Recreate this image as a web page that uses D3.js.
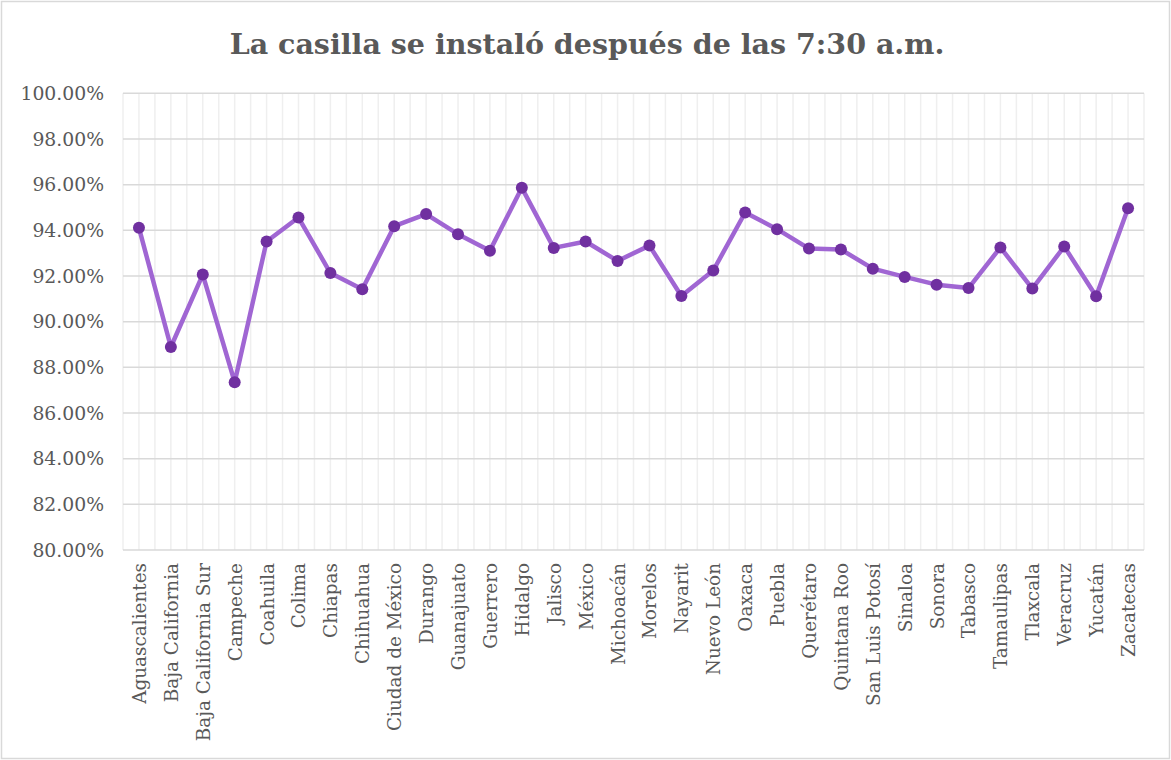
<!DOCTYPE html>
<html><head><meta charset="utf-8">
<script src="https://cdn.jsdelivr.net/npm/d3@7/dist/d3.min.js"></script>
<style>html,body{margin:0;padding:0;background:#fff;}</style>
</head><body>
<script>
const title = "La casilla se instaló después de las 7:30 a.m.";
const states = ["Aguascalientes","Baja California","Baja California Sur","Campeche","Coahuila","Colima","Chiapas","Chihuahua","Ciudad de México","Durango","Guanajuato","Guerrero","Hidalgo","Jalisco","México","Michoacán","Morelos","Nayarit","Nuevo León","Oaxaca","Puebla","Querétaro","Quintana Roo","San Luis Potosí","Sinaloa","Sonora","Tabasco","Tamaulipas","Tlaxcala","Veracruz","Yucatán","Zacatecas"];
const values = [94.11,88.89,92.06,87.35,93.51,94.56,92.13,91.42,94.18,94.71,93.83,93.11,95.86,93.23,93.51,92.66,93.33,91.12,92.24,94.78,94.05,93.20,93.16,92.32,91.96,91.62,91.47,93.25,91.45,93.29,91.11,94.97];
const yTicks = [80,82,84,86,88,90,92,94,96,98,100];

const W = 1171, H = 760;
const font = "'DejaVu Serif', Georgia, serif";
const m = {left:123, right:1144, top:93.3, bottom:550};

const svg = d3.select("body").append("svg").attr("width", W).attr("height", H);
svg.append("rect").attr("x",1.5).attr("y",1.5).attr("width",W-3).attr("height",H-3)
  .attr("fill","#fff").attr("stroke","#d9d9d9").attr("stroke-width",1.5);

svg.append("text").attr("x", 587).attr("y", 54).attr("text-anchor","middle")
  .attr("font-family", font).attr("font-weight","bold").attr("font-size", 28.5)
  .attr("fill","#595959").text(title);

const x = d3.scalePoint().domain(states).range([m.left, m.right]).padding(0.5);
const y = d3.scaleLinear().domain([80,100]).range([m.bottom, m.top]);
const step = x.step();

// vertical gridlines (category boundaries and centres)
const g = svg.append("g");
const vpos = [];
for (let i = 0; i <= states.length; i++) vpos.push(m.left + i*step);
states.forEach(s => vpos.push(x(s)));
g.selectAll("line.v").data(vpos).enter().append("line")
  .attr("x1", d=>d).attr("x2", d=>d).attr("y1", m.top).attr("y2", m.bottom)
  .attr("stroke","#efefef").attr("stroke-width",1.5);
// horizontal gridlines
g.selectAll("line.h").data(yTicks).enter().append("line")
  .attr("x1", m.left).attr("x2", m.right).attr("y1", d=>y(d)).attr("y2", d=>y(d))
  .attr("stroke","#d9d9d9").attr("stroke-width",1.5);

// y axis labels
const yAxis = d3.axisLeft(y).tickValues(yTicks).tickSize(0).tickPadding(19)
  .tickFormat(d => d.toFixed(2) + "%");
const ya = svg.append("g").attr("transform",`translate(${m.left},0)`).call(yAxis);
ya.select(".domain").remove();
ya.selectAll("text").attr("font-family", font).attr("font-size", 18.8).attr("fill","#595959");

// x axis labels
const xAxis = d3.axisBottom(x).tickSize(0).tickPadding(0);
const xa = svg.append("g").attr("transform",`translate(0,${m.bottom})`).call(xAxis);
xa.select(".domain").remove();
xa.selectAll("text").attr("font-family", font).attr("font-size", 18.4).attr("fill","#595959")
  .attr("transform","rotate(-90)").attr("text-anchor","end")
  .attr("x", -13).attr("y", 0).attr("dy","0.35em");

const data = states.map((s,i)=>({s, v: values[i]}));
svg.append("path").datum(data)
  .attr("fill","none").attr("stroke","#a066d3").attr("stroke-width",4.5)
  .attr("stroke-linejoin","round")
  .attr("d", d3.line().x(d=>x(d.s)).y(d=>y(d.v)));
svg.selectAll("circle.pt").data(data).enter().append("circle")
  .attr("cx", d=>x(d.s)).attr("cy", d=>y(d.v)).attr("r", 6)
  .attr("fill","#7030a0");
</script>
</body></html>
